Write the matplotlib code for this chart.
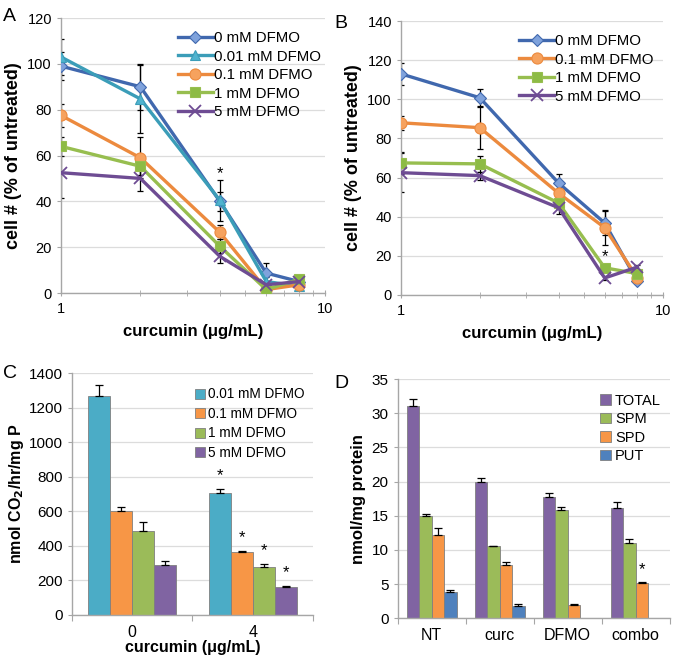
import numpy as np
import matplotlib
matplotlib.use("Agg")
import matplotlib.pyplot as plt
from matplotlib.ticker import LogLocator, NullFormatter, FixedLocator

plt.rcParams['font.family'] = ['Liberation Sans', 'DejaVu Sans']

# ---------------- data ----------------
conc = [1, 2, 4, 6, 8]

a_labels = ['0 mM DFMO', '0.01 mM DFMO', '0.1 mM DFMO', '1 mM DFMO', '5 mM DFMO']
a_0 = [99, 90, 40, 8.7, 5]
a_001 = [103, 84.7, 40.5, 5, 3]
a_01 = [77.5, 59, 26.5, 1.5, 3.6]
a_1 = [64, 55.3, 20.4, 1.5, 6]
a_5 = [52.5, 50, 16, 3.6, 5]
a_0_err = [6, 10, 4, 4.5, 1]
a_001_err = [8, 15, 9, 2, 1]
a_01_err = [5, 9, 3, 1, 1]
a_1_err = [4, 4, 3, 1, 1]
a_5_err = [11, 5.5, 3, 1, 1]

b_labels = ['0 mM DFMO', '0.1 mM DFMO', '1 mM DFMO', '5 mM DFMO']
b_0 = [113, 100.8, 57.2, 36.8, 7]
b_01 = [88, 85.5, 52, 34.4, 8.7]
b_1 = [67.5, 67, 47, 13.9, 10.9]
b_5 = [62.5, 61, 44.6, 8.7, 14.3]
b_0_err = [5.5, 4.5, 4.5, 6, 1]
b_01_err = [3.5, 11, 2, 9, 1]
b_1_err = [5.5, 4, 3, 1, 1]
b_5_err = [10, 2, 3, 1, 1]

c_groups = ['0', '4']
c_labels = ['0.01 mM DFMO', '0.1 mM DFMO', '1 mM DFMO', '5 mM DFMO']
c_vals = [[1270, 704], [604, 363], [485, 275], [292, 162]]
c_errs = [[62, 24], [20, 5], [52, 18], [18, 3]]
c_star = [[False, True], [False, True], [False, True], [False, True]]

d_groups = ['NT', 'curc', 'DFMO', 'combo']
d_labels = ['TOTAL', 'SPM', 'SPD', 'PUT']
d_vals = [[31.05, 19.95, 17.8, 16.15],
          [15.0, 10.5, 15.85, 11.05],
          [12.25, 7.75, 2.0, 5.2],
          [3.9, 1.75, np.nan, np.nan]]
d_errs = [[1.1, 0.6, 0.6, 0.8],
          [0.2, 0.05, 0.5, 0.6],
          [1.0, 0.5, 0.1, 0.15],
          [0.3, 0.3, np.nan, np.nan]]

# ---------------- styles ----------------
line_colors = {'0': '#4068AE', '0.01': '#3B9DB8', '0.1': '#EC8A3E', '1': '#97BE4F', '5': '#6E4C93'}
marker_face = {'0': '#7FA2DC', '0.01': '#4FB3CF', '0.1': '#F6A25E', '1': '#8DBB45', '5': '#8E77B4'}
GRID = '#DCDCDC'
SPINE = '#A6A6A6'

fig = plt.figure(figsize=(6.73, 6.57), dpi=100)


def style_line_axes(ax, ymax):
    ax.set_xscale('log')
    ax.set_xlim(1, 10)
    ax.set_ylim(0, ymax)
    ax.xaxis.set_major_locator(FixedLocator([1, 10]))
    ax.set_xticklabels(['1', '10'])
    ax.xaxis.set_minor_locator(LogLocator(base=10, subs=np.arange(2, 10)))
    ax.xaxis.set_minor_formatter(NullFormatter())
    ax.set_yticks(np.arange(0, ymax + 1, 20))
    ax.yaxis.grid(True, color=GRID, lw=0.9)
    ax.set_axisbelow(True)
    for s in ['top', 'right']:
        ax.spines[s].set_visible(False)
    for s in ['left', 'bottom']:
        ax.spines[s].set_color(SPINE)
        ax.spines[s].set_linewidth(1.0)
    ax.tick_params(axis='x', which='both', direction='inout', length=5, color=SPINE, labelsize=10.5, pad=4)
    ax.tick_params(axis='y', which='both', direction='out', length=3, color=SPINE, labelsize=10.5)
    ax.set_xlabel('curcumin (\u03bcg/mL)', fontsize=12, fontweight='bold', labelpad=6)
    ax.set_ylabel('cell # (% of untreated)', fontsize=13, fontweight='bold', labelpad=4)


def draw_series(ax, y, err, key, marker, label, ms):
    c = line_colors[key]
    ax.errorbar(conc, y, yerr=err, fmt='none', ecolor='black', elinewidth=0.9, capsize=2.5, capthick=0.9, zorder=2)
    if marker == 'x':
        ax.plot(conc, y, color=c, lw=2.4, marker='x', ms=ms, mew=1.3, mec=c, label=label, zorder=3)
    else:
        ax.plot(conc, y, color=c, lw=2.4, marker=marker, ms=ms, mfc=marker_face[key], mec=c, mew=0.8,
                label=label, zorder=3)


# Panel A
axA = fig.add_axes([0.0906, 0.554, 0.392, 0.4186])
style_line_axes(axA, 120)
draw_series(axA, a_0, a_0_err, '0', 'D', a_labels[0], 6)
draw_series(axA, a_001, a_001_err, '0.01', '^', a_labels[1], 7)
draw_series(axA, a_01, a_01_err, '0.1', 'o', a_labels[2], 8)
draw_series(axA, a_1, a_1_err, '1', 's', a_labels[3], 7.5)
draw_series(axA, a_5, a_5_err, '5', 'x', a_labels[4], 8)
axA.text(conc[2], 52, '*', ha='center', va='center', fontsize=12)
axA.legend(loc='upper right', bbox_to_anchor=(1.02, 0.985), frameon=False, fontsize=10.8,
           handlelength=2.3, handletextpad=0.1, labelspacing=0.3, borderaxespad=0.2)

# Panel B
axB = fig.add_axes([0.5958, 0.551, 0.389, 0.417])
style_line_axes(axB, 140)
draw_series(axB, b_0, b_0_err, '0', 'D', b_labels[0], 6)
draw_series(axB, b_01, b_01_err, '0.1', 'o', b_labels[1], 8)
draw_series(axB, b_1, b_1_err, '1', 's', b_labels[2], 7.5)
draw_series(axB, b_5, b_5_err, '5', 'x', b_labels[3], 8)
axB.text(conc[3], 19.5, '*', ha='center', va='center', fontsize=12)
axB.legend(loc='upper right', bbox_to_anchor=(1.0, 0.985), frameon=False, fontsize=10.8,
           handlelength=2.3, handletextpad=0.1, labelspacing=0.3, borderaxespad=0.2)

fig.text(0.005, 0.968, 'A', fontsize=14)
fig.text(0.497, 0.958, 'B', fontsize=14)
fig.text(0.005, 0.425, 'C', fontsize=14)
fig.text(0.497, 0.41, 'D', fontsize=14)


def style_bar_axes(ax, ngroups, ymax, ystep):
    ax.set_xlim(-0.5, ngroups - 0.5)
    ax.set_ylim(0, ymax)
    ax.set_yticks(np.arange(0, ymax + 0.001, ystep))
    ax.yaxis.grid(True, color=GRID, lw=0.9)
    ax.set_axisbelow(True)
    for s in ['top', 'right']:
        ax.spines[s].set_visible(False)
    for s in ['left', 'bottom']:
        ax.spines[s].set_color(SPINE)
        ax.spines[s].set_linewidth(1.0)
    ax.set_xticks(np.arange(-0.5, ngroups, 1.0))
    ax.set_xticklabels([])
    ax.set_xticks(np.arange(ngroups), minor=True)
    ax.tick_params(axis='x', which='major', direction='out', length=4, color=SPINE)
    ax.tick_params(axis='x', which='minor', length=0, labelsize=11.5, pad=7)
    ax.tick_params(axis='y', direction='out', length=3, color=SPINE, labelsize=11)


# Panel C
c_colors = ['#4BACC6', '#F79646', '#9BBB59', '#8064A2']
axC = fig.add_axes([0.107, 0.064, 0.358, 0.368])
style_bar_axes(axC, len(c_groups), 1400, 200)
w = 0.183
xg = np.arange(len(c_groups))
for i, (lab, vals, errs) in enumerate(zip(c_labels, c_vals, c_errs)):
    xs = xg + (i - 1.5) * w
    axC.bar(xs, vals, width=w, color=c_colors[i], edgecolor='#7F7F7F', linewidth=0.6, label=lab, zorder=2)
    axC.errorbar(xs, vals, yerr=[np.zeros(len(errs)), errs], fmt='none', ecolor='black',
                 elinewidth=0.9, capsize=3, capthick=0.9, zorder=3)
    for j in range(len(vals)):
        if c_star[i][j]:
            axC.text(xs[j], vals[j] + errs[j] + 35, '*', ha='center', va='bottom', fontsize=12)
axC.set_xticklabels(c_groups, minor=True)
axC.set_xlabel('curcumin (\u03bcg/mL)', fontsize=11.5, fontweight='bold', labelpad=0)
axC.set_ylabel('nmol CO$_\\mathbf{2}$/hr/mg P', fontsize=11.5, fontweight='bold', labelpad=2)
axC.legend(loc='upper right', bbox_to_anchor=(1.0, 0.975), frameon=False, fontsize=9.8,
           handlelength=0.75, handleheight=0.75, handletextpad=0.25, labelspacing=0.4, borderaxespad=0.2)

# Panel D
d_colors = ['#8064A2', '#9BBB59', '#F79646', '#4F81BD']
axD = fig.add_axes([0.591, 0.059, 0.404, 0.364])
style_bar_axes(axD, len(d_groups), 35, 5)
xg = np.arange(len(d_groups))
for i, (lab, vals, errs) in enumerate(zip(d_labels, d_vals, d_errs)):
    xs = xg + (i - 1.5) * w
    vals = np.array(vals, dtype=float)
    errs = np.array(errs, dtype=float)
    axD.bar(xs, np.nan_to_num(vals), width=w, color=d_colors[i], edgecolor='#7F7F7F', linewidth=0.6,
            label=lab, zorder=2)
    ok = ~np.isnan(vals)
    axD.errorbar(xs[ok], vals[ok], yerr=[np.zeros(ok.sum()), errs[ok]], fmt='none', ecolor='black',
                 elinewidth=0.9, capsize=3, capthick=0.9, zorder=3)
axD.text(3 + 0.5 * w, d_vals[2][3] + d_errs[2][3] + 0.6, '*', ha='center', va='bottom', fontsize=12)
axD.set_xticklabels(d_groups, minor=True)
axD.set_ylabel('nmol/mg protein', fontsize=12, fontweight='bold', labelpad=4)
axD.legend(loc='upper right', bbox_to_anchor=(1.0, 0.975), frameon=False, fontsize=10.5,
           handlelength=0.75, handleheight=0.75, handletextpad=0.25, labelspacing=0.3, borderaxespad=0.2)

fig.savefig('out.png', dpi=100)
